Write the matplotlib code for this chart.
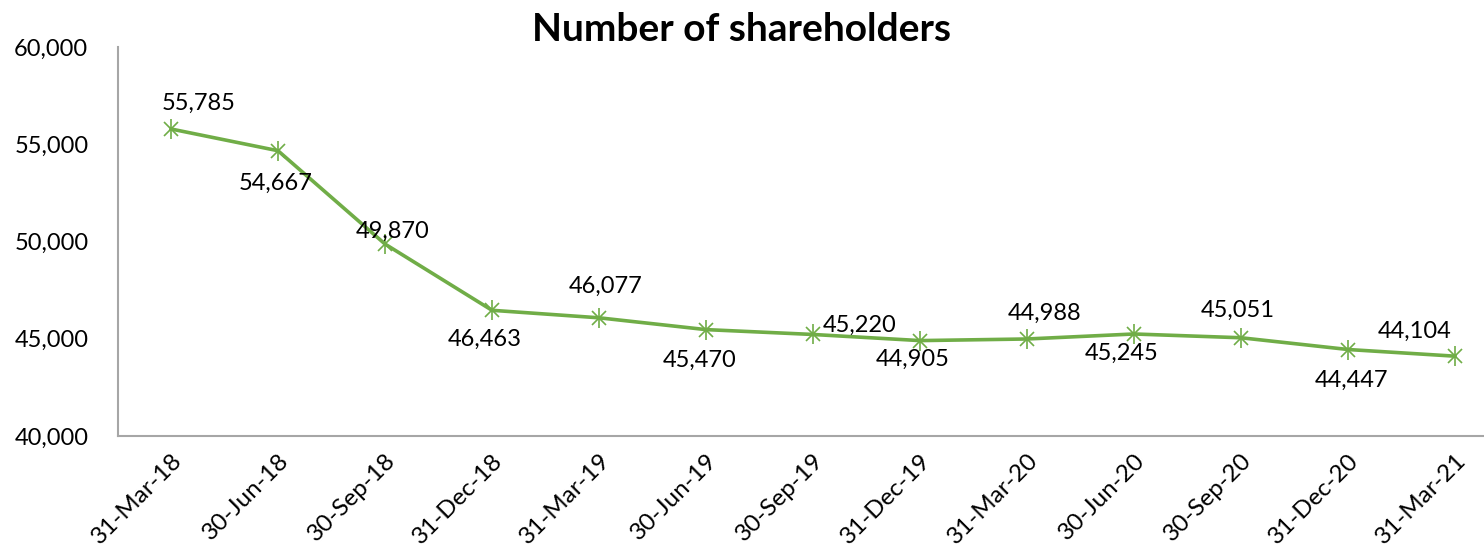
import matplotlib.pyplot as plt
from matplotlib.ticker import FuncFormatter

# Data
dates = ["31-Mar-18", "30-Jun-18", "30-Sep-18", "31-Dec-18", "31-Mar-19", "30-Jun-19",
         "30-Sep-19", "31-Dec-19", "31-Mar-20", "30-Jun-20", "30-Sep-20", "31-Dec-20",
         "31-Mar-21"]
holders = [55785, 54667, 49870, 46463, 46077, 45470, 45220, 44905, 44988, 45245,
           45051, 44447, 44104]

# label offsets (pixels) from each point, like the hand-placed Excel labels
label_offsets = [(28, 26), (-2, -33), (8, 13), (-7, -29), (7, 31), (-6, -31),
                 (47, 9), (-7, -19), (18, 26), (-12, -19), (-3, 27), (3, -31), (-40, 25)]

plt.rcParams['font.family'] = ['Lato', 'DejaVu Sans']
green = '#70AD47'

fig = plt.figure(figsize=(14.84, 5.53), dpi=100)
ax = fig.add_axes([117.5 / 1484, 117 / 553, (1508.5 - 117.5) / 1484, 389 / 553])

x = list(range(len(dates)))
ax.plot(x, holders, color=green, linewidth=2.6, zorder=2)
ax.plot(x, holders, linestyle='none', marker='x', markersize=10, markeredgewidth=1.2,
        color=green, zorder=3)
ax.plot(x, holders, linestyle='none', marker='|', markersize=14, markeredgewidth=1.2,
        color=green, zorder=3)

for xi, v, (dx, dy) in zip(x, holders, label_offsets):
    ax.annotate(f"{v:,}", (xi, v), xytext=(dx, dy), textcoords='offset pixels',
                ha='center', va='center', fontsize=17, color='black')

ax.set_xlim(-0.5, 12.5)
ax.set_ylim(40000, 60000)
ax.set_yticks([40000, 45000, 50000, 55000, 60000])
ax.yaxis.set_major_formatter(FuncFormatter(lambda v, p: f"{int(v):,}"))
ax.set_xticks(x)
ax.set_xticklabels(dates, rotation=45, ha='right', rotation_mode='anchor')

ax.tick_params(axis='y', length=0, pad=21, labelsize=17)
ax.tick_params(axis='x', length=0, pad=10, labelsize=17.5)

for s in ['top', 'right']:
    ax.spines[s].set_visible(False)
for s in ['left', 'bottom']:
    ax.spines[s].set_color('#A6A6A6')
    ax.spines[s].set_linewidth(1.5)

fig.text(0.500, 0.946, "Number of shareholders", ha='center', va='center',
         fontsize=28, fontweight='bold')

fig.savefig('out.png', dpi=100)
